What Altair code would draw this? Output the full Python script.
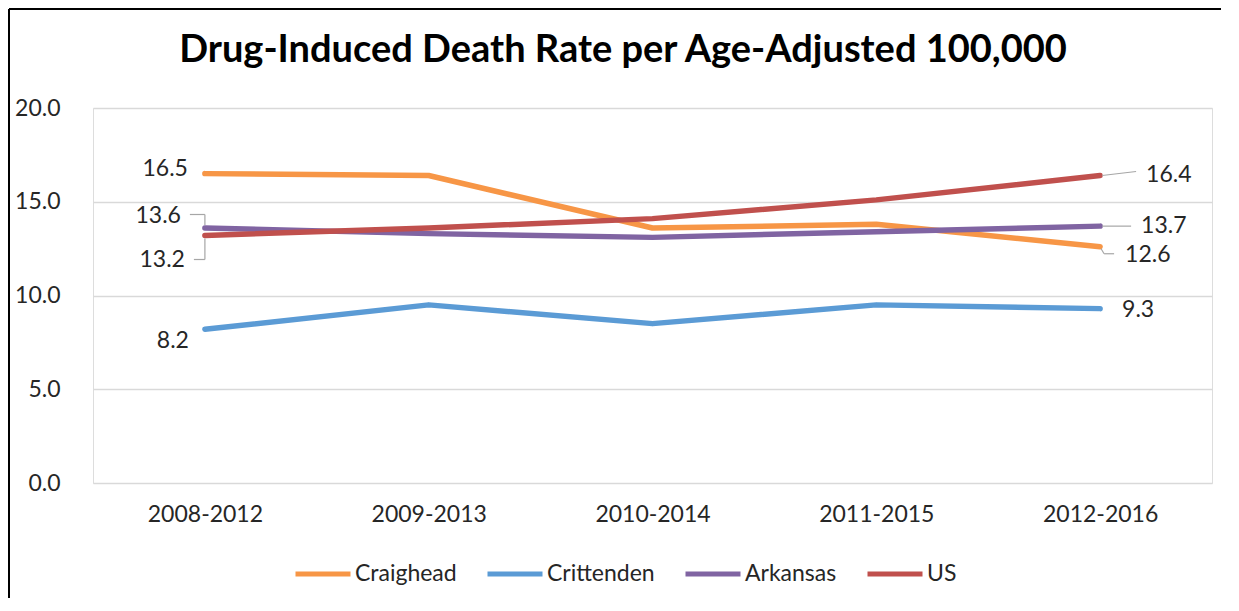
import altair as alt
import pandas as pd

# ---- data ----
periods = ["2008-2012", "2009-2013", "2010-2014", "2011-2015", "2012-2016"]
series_names = ["Craighead", "Crittenden", "Arkansas", "US"]
craighead = [16.5, 16.4, 13.6, 13.8, 12.6]
crittenden = [8.2, 9.5, 8.5, 9.5, 9.3]
arkansas = [13.6, 13.3, 13.1, 13.4, 13.7]
us = [13.2, 13.6, 14.1, 15.1, 16.4]
colors = ["#F79646", "#5B9BD5", "#8064A2", "#C0504D"]
y_ticks = [0, 5, 10, 15, 20]
title_text = "Drug-Induced Death Rate per Age-Adjusted 100,000"

values_by_series = [craighead, crittenden, arkansas, us]
rows = []
for name, vals in zip(series_names, values_by_series):
    for i, (p, v) in enumerate(zip(periods, vals)):
        rows.append({"series": name, "period": p, "idx": i, "value": v,
                     "label": f"{v:.1f}"})
df = pd.DataFrame(rows)

FONT = "Lato"
TXT = "#262626"
W, H = 1119, 375

x_scale = alt.Scale(type="point", domain=periods, padding=0.5)
x_enc = alt.X("period:O", sort=periods, scale=x_scale,
              axis=alt.Axis(title=None, labelAngle=0, ticks=False, domain=False,
                            labelFont=FONT, labelFontSize=23, labelColor=TXT,
                            labelPadding=20))
x_plain = alt.X("period:O", sort=periods, scale=x_scale)
y_scale = alt.Scale(domain=[0, 20], nice=False)
y_enc = alt.Y("value:Q", scale=y_scale,
              axis=alt.Axis(title=None, values=y_ticks, format=".1f", ticks=False,
                            domain=False, grid=True, gridColor="#D9D9D9",
                            gridWidth=1.3, labelFont=FONT, labelFontSize=23,
                            labelColor=TXT, labelPadding=33))
color_enc = alt.Color("series:N", sort=series_names,
                      scale=alt.Scale(domain=series_names, range=colors),
                      legend=alt.Legend(title=None, orient="none", legendX=200,
                                        legendY=436, direction="horizontal",
                                        symbolType="stroke", symbolSize=3025,
                                        symbolStrokeWidth=5, labelFont=FONT,
                                        labelFontSize=23, labelColor=TXT,
                                        labelOffset=2, columnPadding=20,
                                        padding=0))

base = alt.Chart(df)

layers = []

# lines, one layer per series so US is drawn last (on top)
for s in series_names:
    layers.append(
        base.mark_line(strokeWidth=5.5, strokeCap="round", strokeJoin="round")
        .transform_filter(alt.datum.series == s)
        .encode(x=x_enc, y=y_enc, color=color_enc)
    )

# leader lines: (series, idx, x1, y1, x2, y2) pixel offsets from the data point
leaders = [
    ("Arkansas", 0, -15, -13.5, 0, -13.5),
    ("Arkansas", 0, 0, -13.5, 0, -3),
    ("US", 0, -11, 24, 0, 24),
    ("US", 0, 0, 24, 0, 3),
    ("US", 4, 2, 0, 36, -4),
    ("Arkansas", 4, 2, 0, 31, 0),
    ("Craighead", 4, 1, 2, 4, 7),
    ("Craighead", 4, 4, 7, 14, 7),
]
for s, i, x1, y1, x2, y2 in leaders:
    layers.append(
        base.mark_rule(color="#A6A6A6", strokeWidth=1.2, xOffset=x1, yOffset=y1,
                       x2Offset=x2, y2Offset=y2)
        .transform_filter((alt.datum.series == s) & (alt.datum.idx == i))
        .encode(x=x_plain, x2="period:O",
                y=alt.Y("value:Q", scale=y_scale), y2="value:Q")
    )

# data labels: (series, idx, align, dx, dy)
label_specs = [
    ("Craighead", 0, "right", -17, -5),
    ("Arkansas", 0, "right", -24, -12),
    ("US", 0, "right", -20, 24.5),
    ("Crittenden", 0, "right", -16, 12),
    ("US", 4, "left", 46, -1),
    ("Arkansas", 4, "left", 41, 0),
    ("Craighead", 4, "left", 25, 8.5),
    ("Crittenden", 4, "left", 22, 1),
]
for s, i, al, dx, dy in label_specs:
    layers.append(
        base.mark_text(align=al, baseline="middle", dx=dx, dy=dy, font=FONT,
                       fontSize=23, color=TXT)
        .transform_filter((alt.datum.series == s) & (alt.datum.idx == i))
        .encode(x=x_plain, y=alt.Y("value:Q", scale=y_scale), text="label:N")
    )

# title and outer frame (top and left edges)
deco_df = pd.DataFrame({"t": [title_text]})
deco = alt.Chart(deco_df)
layers.append(deco.mark_text(font=FONT, fontSize=38, fontWeight="bold",
                             color="#000000", align="center",
                             baseline="alphabetic").encode(
    x=alt.value(530), y=alt.value(-46), text="t:N"))
layers.append(deco.mark_rule(color="#000000", strokeWidth=2).encode(
    x=alt.value(-84), x2=alt.value(1128), y=alt.value(-99)))
layers.append(deco.mark_rule(color="#000000", strokeWidth=2).encode(
    x=alt.value(-84), y=alt.value(-99), y2=alt.value(490)))

chart = alt.layer(*layers).properties(
    width=W, height=H,
    padding=0,
).configure_view(stroke=None).configure(background="white")

chart.save("out.html", embed_options={"renderer": "svg", "actions": False})
